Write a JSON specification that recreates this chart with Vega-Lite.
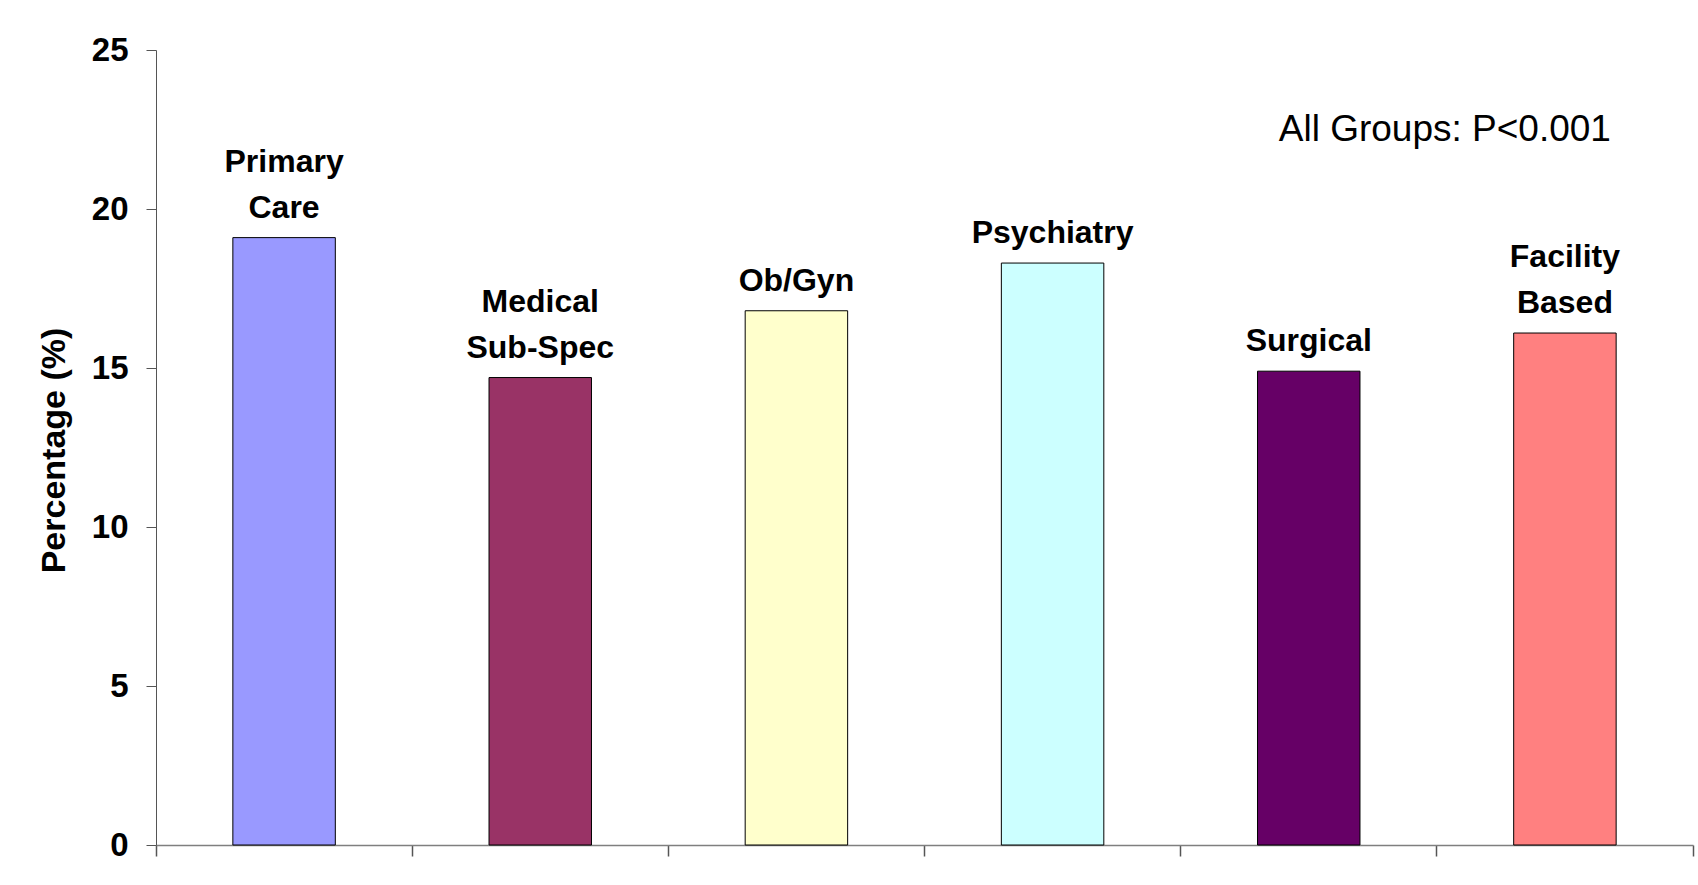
{
  "$schema": "https://vega.github.io/schema/vega-lite/v6.json",
  "autosize": {"type": "none"},
  "padding": {"left": 156, "top": 50, "right": 5, "bottom": 40},
  "width": 1537,
  "height": 795,
  "background": "white",
  "config": {
    "view": {"stroke": null},
    "font": "Liberation Sans"
  },
  "data": {
    "values": [
      {"group": "Primary Care", "line1": "Primary", "line2": "Care", "pct": 19.1},
      {"group": "Medical Sub-Spec", "line1": "Medical", "line2": "Sub-Spec", "pct": 14.7},
      {"group": "Ob/Gyn", "line1": "", "line2": "Ob/Gyn", "pct": 16.8},
      {"group": "Psychiatry", "line1": "", "line2": "Psychiatry", "pct": 18.3},
      {"group": "Surgical", "line1": "", "line2": "Surgical", "pct": 14.9},
      {"group": "Facility Based", "line1": "Facility", "line2": "Based", "pct": 16.1}
    ]
  },
  "encoding": {
    "x": {
      "field": "group",
      "type": "nominal",
      "sort": null,
      "scale": {"paddingInner": 0, "paddingOuter": 0},
      "axis": {
        "title": null,
        "labels": false,
        "bandPosition": 1,
        "tickExtra": true,
        "tickSize": 11,
        "tickColor": "#555555",
        "domainColor": "#7f7f7f",
        "domainWidth": 1.5,
        "tickWidth": 1.5
      }
    },
    "y": {
      "field": "pct",
      "type": "quantitative",
      "scale": {"domain": [0, 25], "nice": false},
      "axis": {
        "title": "Percentage (%)",
        "values": [0, 5, 10, 15, 20, 25],
        "grid": false,
        "tickSize": 10,
        "tickColor": "#555555",
        "domainColor": "#555555",
        "labelPadding": 18,
        "labelFontSize": 33,
        "labelFontWeight": "bold",
        "labelColor": "black",
        "titleFontSize": 34,
        "titleFontWeight": "bold",
        "titleColor": "black",
        "titleAngle": -90,
        "titleX": -92,
        "titleY": 400,
        "titleAlign": "center",
        "titleBaseline": "alphabetic"
      }
    }
  },
  "layer": [
    {
      "mark": {"type": "bar", "width": {"band": 0.4}, "stroke": "black", "strokeWidth": 1},
      "encoding": {
        "color": {
          "field": "group",
          "type": "nominal",
          "sort": null,
          "scale": {
            "domain": ["Primary Care", "Medical Sub-Spec", "Ob/Gyn", "Psychiatry", "Surgical", "Facility Based"],
            "range": ["#9999FF", "#993366", "#FFFFCC", "#CCFFFF", "#660066", "#FF8080"]
          },
          "legend": null
        }
      }
    },
    {
      "mark": {
        "type": "text",
        "fontSize": 32,
        "fontWeight": "bold",
        "baseline": "alphabetic",
        "dy": -20,
        "color": "black"
      },
      "encoding": {"text": {"field": "line2"}}
    },
    {
      "mark": {
        "type": "text",
        "fontSize": 32,
        "fontWeight": "bold",
        "baseline": "alphabetic",
        "dy": -66,
        "color": "black"
      },
      "encoding": {"text": {"field": "line1"}}
    },
    {
      "data": {"values": [{"note": "All Groups: P<0.001", "col": "Facility Based", "yv": 22.15}]},
      "mark": {"type": "text", "fontSize": 37, "align": "center", "baseline": "alphabetic", "dx": 8, "color": "black"},
      "encoding": {
        "x": {"field": "col", "type": "nominal", "bandPosition": 0},
        "y": {"field": "yv", "type": "quantitative"},
        "text": {"field": "note"}
      }
    }
  ]
}
